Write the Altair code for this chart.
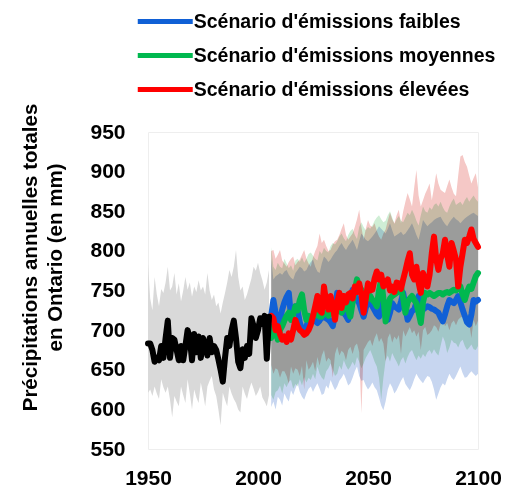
import altair as alt
import pandas as pd

FONT = "Liberation Sans"

# ---------------- historical (1950-2005) ----------------
hist_years = list(range(1950, 2006))
hist_mean = [683, 683, 675, 660, 665, 662, 680, 665, 690, 712,
             665, 690, 688, 675, 662, 680, 662, 680, 700, 690,
             662, 695, 672, 692, 665, 690, 680, 668, 690, 672,
             680, 675, 663, 650, 635, 665, 690, 680, 700, 712,
             690, 660, 652, 676, 665, 680, 670, 715, 705, 690,
             700, 715, 708, 718, 664, 717]
hist_hi = [784, 740, 725, 767, 745, 730, 752, 747, 760, 780,
           750, 755, 772, 745, 759, 736, 750, 767, 751, 760,
           742, 755, 748, 763, 750, 755, 745, 772, 750, 738,
           745, 730, 735, 721, 735, 747, 760, 776, 767, 780,
           801, 767, 750, 755, 738, 745, 755, 765, 780, 775,
           785, 772, 763, 751, 760, 776]
hist_lo = [621, 625, 617, 629, 620, 613, 638, 628, 621, 629,
           612, 590, 617, 610, 604, 629, 618, 608, 638, 620,
           600, 625, 615, 608, 634, 620, 604, 629, 636, 642,
           625, 617, 600, 580, 621, 612, 604, 629, 620, 613,
           608, 600, 596, 629, 620, 613, 625, 634, 626, 617,
           622, 629, 615, 610, 604, 618]

# ---------------- projections (2006-2100) ----------------
fut_years = list(range(2006, 2101))
scenarios = ["Scénario d'émissions faibles",
             "Scénario d'émissions moyennes",
             "Scénario d'émissions élevées"]
line_colors = ["#1060d6", "#00b84f", "#ff0000"]
band_colors = ["#c7d6f0", "#cfeed5", "#f5c8c6"]

low_mean = [718, 738, 722, 700, 712, 726, 735, 742, 747, 717,
            722, 730, 725, 710, 700, 696, 705, 713, 712, 717,
            712, 709, 712, 717, 716, 715, 713, 710, 705, 720,
            747, 738, 728, 722, 718, 713, 730, 751, 745, 738,
            734, 725, 717, 728, 738, 735, 730, 725, 720, 717,
            728, 738, 725, 713, 722, 734, 730, 728, 726, 736,
            747, 730, 713, 718, 724, 726, 735, 743, 735, 726,
            728, 730, 729, 727, 726, 724, 722, 716, 711, 720,
            730, 738, 736, 734, 738, 743, 735, 726, 718, 710,
            707, 720, 738, 736, 738]
med_mean = [690, 705, 698, 688, 700, 705, 712, 718, 722, 713,
            720, 730, 725, 738, 745, 725, 713, 718, 713, 716,
            722, 720, 717, 717, 722, 722, 718, 722, 724, 720,
            726, 730, 722, 728, 734, 725, 717, 735, 750, 764,
            755, 751, 745, 743, 740, 743, 738, 735, 730, 750,
            764, 740, 711, 725, 740, 743, 745, 747, 750, 755,
            740, 722, 735, 740, 743, 738, 734, 722, 709, 735,
            747, 745, 747, 745, 743, 745, 747, 747, 745, 747,
            748, 747, 749, 751, 750, 753, 755, 745, 738, 748,
            755, 752, 760, 768, 772]
high_mean = [718, 715, 700, 705, 695, 688, 692, 685, 696, 688,
             700, 713, 705, 700, 698, 694, 696, 700, 707, 718,
             730, 743, 725, 722, 755, 735, 726, 743, 730, 713,
             735, 747, 728, 743, 735, 745, 747, 740, 755, 748,
             759, 745, 722, 740, 759, 750, 751, 765, 774, 764,
             770, 755, 760, 764, 750, 755, 748, 760, 759, 752,
             764, 775, 787, 797, 770, 764, 780, 760, 747, 772,
             765, 755, 770, 797, 818, 790, 776, 790, 797, 814,
             795, 780, 810, 800, 789, 755, 780, 797, 814, 810,
             818, 827, 815, 810, 805]

low_hi = [790, 764, 768, 770, 772, 770, 774, 776, 770, 766,
          764, 772, 776, 780, 778, 774, 776, 782, 786, 789,
          780, 774, 772, 784, 793, 790, 786, 789, 794, 798,
          801, 806, 810, 805, 801, 806, 810, 814, 808, 801,
          812, 822, 818, 814, 812, 815, 818, 822, 826, 831,
          828, 825, 822, 828, 835, 826, 818, 820, 822, 824,
          820, 822, 826, 830, 835, 828, 820, 814, 826, 839,
          835, 831, 834, 836, 839, 841, 842, 843, 838, 834,
          831, 836, 840, 843, 840, 838, 835, 838, 841, 843,
          845, 847, 848, 846, 844]
med_hi = [805, 780, 776, 785, 780, 778, 790, 784, 778, 782,
          775, 788, 790, 786, 792, 785, 790, 796, 798, 794,
          790, 788, 800, 796, 804, 800, 798, 806, 810, 808,
          812, 818, 822, 816, 812, 820, 825, 828, 820, 815,
          830, 836, 830, 826, 830, 828, 832, 838, 842, 845,
          840, 836, 838, 845, 850, 842, 834, 840, 844, 838,
          836, 842, 848, 845, 852, 846, 838, 832, 845, 856,
          850, 848, 855, 852, 858, 860, 856, 862, 855, 850,
          848, 856, 862, 866, 858, 860, 862, 858, 864, 868,
          862, 866, 870, 865, 862]
high_hi = [800, 801, 790, 795, 801, 788, 784, 780, 786, 790,
           793, 782, 786, 789, 795, 801, 790, 784, 780, 792,
           800, 806, 822, 810, 814, 806, 800, 801, 808, 812,
           814, 820, 828, 835, 820, 814, 818, 822, 830, 840,
           852, 830, 814, 828, 839, 832, 830, 835, 825, 818,
           814, 822, 827, 838, 848, 840, 835, 845, 852, 835,
           850, 862, 873, 865, 856, 880, 902, 870, 856, 864,
           872, 878, 885, 864, 880, 898, 885, 877, 875, 873,
           882, 890, 880, 872, 869, 895, 919, 921, 912, 906,
           895, 885, 892, 898, 880]

low_lo = [603, 610, 600, 616, 612, 605, 620, 614, 610, 624,
          618, 626, 633, 622, 616, 612, 620, 626, 629, 622,
          628, 633, 626, 618, 620, 630, 626, 637, 630, 624,
          629, 636, 640, 645, 638, 630, 633, 640, 648, 654,
          642, 636, 637, 630, 625, 629, 634, 628, 624, 615,
          605, 599, 610, 625, 633, 628, 620, 624, 630, 636,
          641, 632, 628, 624, 630, 638, 645, 640, 636, 633,
          638, 642, 641, 635, 625, 612, 620, 628, 633, 630,
          638, 645, 640, 637, 642, 648, 654, 646, 640, 641,
          645, 648, 645, 642, 645]
med_lo = [618, 612, 622, 624, 630, 620, 633, 628, 635, 637,
          626, 632, 629, 638, 630, 641, 634, 640, 637, 645,
          638, 654, 645, 640, 637, 648, 652, 658, 650, 642,
          645, 655, 650, 662, 655, 650, 654, 660, 655, 666,
          660, 652, 658, 665, 670, 675, 668, 660, 654, 640,
          612, 640, 662, 668, 660, 671, 665, 660, 654, 662,
          666, 658, 666, 672, 675, 668, 662, 668, 664, 670,
          666, 672, 675, 670, 676, 671, 668, 680, 692, 685,
          671, 678, 688, 684, 683, 678, 685, 688, 680, 675,
          678, 682, 676, 675, 680]
high_lo = [656, 645, 652, 650, 640, 648, 648, 642, 632, 654,
           645, 652, 650, 642, 655, 625, 662, 650, 654, 660,
           648, 666, 655, 668, 675, 660, 665, 662, 640, 670,
           679, 668, 674, 671, 662, 675, 679, 670, 680, 683,
           672, 595, 675, 680, 685, 688, 680, 690, 696, 685,
           690, 683, 660, 690, 696, 684, 692, 688, 694, 670,
           700, 692, 698, 704, 696, 700, 692, 698, 675, 700,
           704, 694, 696, 700, 706, 704, 698, 708, 713, 705,
           709, 700, 709, 712, 706, 713, 716, 717, 710, 714,
           709, 690, 713, 705, 712]

y_ticks = [550, 600, 650, 700, 750, 800, 850, 900, 950]
x_ticks = [1950, 2000, 2050, 2100]

hist = pd.DataFrame({"year": hist_years, "mean": hist_mean,
                     "lo": hist_lo, "hi": hist_hi})

means = [low_mean, med_mean, high_mean]
his = [low_hi, med_hi, high_hi]
los = [low_lo, med_lo, high_lo]
fut_frames = []
for s, m, h, l in zip(scenarios, means, his, los):
    fut_frames.append(pd.DataFrame({"year": fut_years, "mean": m,
                                    "lo": l, "hi": h, "scenario": s}))
fut = pd.concat(fut_frames, ignore_index=True)

xscale = alt.Scale(domain=[1950, 2100], nice=False, zero=False)
xaxis = alt.Axis(values=x_ticks, title=None, format="d",
                 grid=False, ticks=False, domain=False,
                 labelPadding=18, labelFontSize=21,
                 labelFont=FONT, labelFontWeight="bold",
                 labelColor="#000000", labelFlush=False,
                 labelOverlap=False)
yscale = alt.Scale(domain=[550, 950], nice=False, zero=False)
yaxis = alt.Axis(values=y_ticks, grid=False, ticks=False, domain=False,
                 labelPadding=23, labelFontSize=21, labelFont=FONT,
                 labelFontWeight="bold", labelColor="#000000",
                 labelOverlap=False,
                 title=["Précipitations annuelles totales",
                        "en Ontario (en mm)"],
                 titleFont=FONT, titleFontSize=20.5, titleFontWeight="bold",
                 titleColor="#000000", titleX=-128, titleY=125,
                 titleAngle=270, titleAlign="center", titleBaseline="top",
                 titleLineHeight=25)


def X():
    return alt.X("year:Q", scale=xscale, axis=xaxis)


def Y(field):
    return alt.Y(field, scale=yscale, axis=yaxis)


hist_band = alt.Chart(hist).mark_area(color="#d9d9d9").encode(
    x=X(), y=Y("lo:Q"), y2="hi:Q")

bands = []
for s, c in zip(scenarios, band_colors):
    bands.append(
        alt.Chart(fut[fut["scenario"] == s])
        .mark_area(color=c, blend="multiply")
        .encode(x=X(), y=Y("lo:Q"), y2="hi:Q"))

color_enc = alt.Color(
    "scenario:N",
    scale=alt.Scale(domain=scenarios, range=line_colors),
    legend=alt.Legend(title=None, orient="none",
                      legendX=0.75, legendY=-127,
                      symbolType="M-2,0H2", symbolSize=756,
                      symbolStrokeWidth=5,
                      labelFont=FONT, labelFontSize=19.5,
                      labelFontWeight="bold", labelColor="#000000",
                      labelLimit=400, labelOffset=12,
                      rowPadding=7, padding=0))

line_layers = []
for s in scenarios:
    line_layers.append(
        alt.Chart(fut[fut["scenario"] == s])
        .mark_line(strokeWidth=6, strokeCap="round", strokeJoin="round")
        .encode(x=X(), y=Y("mean:Q"), color=color_enc))

hist_line = alt.Chart(hist).mark_line(color="#000000", strokeWidth=6,
                                      strokeCap="round",
                                      strokeJoin="round").encode(
    x=X(), y=Y("mean:Q"))

chart = alt.layer(hist_band, *bands, *line_layers, hist_line).properties(
    width=330, height=317,
    padding={"left": 140, "top": 124, "right": 23, "bottom": 40},
    autosize=alt.AutoSizeParams(type="none"),
).configure_view(stroke="#eeeeee")

chart.save("out.html", embed_options={"renderer": "svg", "actions": False})
